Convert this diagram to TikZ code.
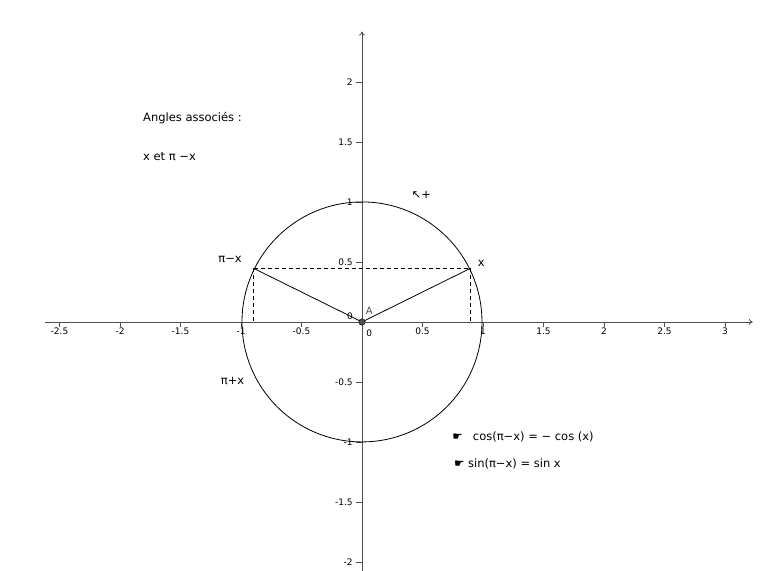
\documentclass[tikz,border=0pt]{standalone}
\usepackage{fontspec}
\setmainfont{DejaVu Sans}
\usetikzlibrary{arrows.meta}
\definecolor{axisgray}{HTML}{505050}
\tikzset{
  axis/.style={draw=axisgray, line width=0.8pt, -{To[length=4pt,width=6pt]}},
  curve/.style={draw=black, line width=0.8pt},
  guide/.style={draw=black, line width=0.7pt, dash pattern=on 4pt off 3pt},
  ticklab/.style={font=\fontsize{9}{10}\selectfont, text=black, inner sep=0pt},
  lab/.style={font=\fontsize{11.5}{13}\selectfont, text=black, inner sep=0pt},
  pointdot/.style={circle, fill=axisgray, draw=black, line width=0.4pt, inner sep=0pt, minimum size=6.5pt}
}
\begin{document}
\begin{tikzpicture}[x=121pt,y=120pt]
\useasboundingbox (-2.992,-2.075) rectangle (3.488,2.683);
% axes
\coordinate (xs) at (-2.62,0);
\coordinate (xe) at (3.23,0);
\coordinate (ys) at (0,-2.075);
\coordinate (ye) at (0,2.42);
\draw[axis] (xs) -- (xe);
\draw[axis] (ys) -- (ye);
% x ticks
\foreach \v/\t in {-2.5/-2.5,-2/-2,-1.5/-1.5,-1/-1,-0.5/-0.5,0.5/0.5,1/1,1.5/1.5,2/2,2.5/2.5,3/3}{
  \draw[axisgray, line width=0.8pt] (\v,0) -- (\v,-0.04);
  \node[ticklab, anchor=north] at (\v,-0.05) {\t};
}
% y ticks
\foreach \v/\t in {-2/-2,-1.5/-1.5,-1/-1,-0.5/-0.5,0.5/0.5,1/1,1.5/1.5,2/2}{
  \draw[axisgray, line width=0.8pt] (0,\v) -- (-0.05,\v);
  \node[ticklab, anchor=east] at (-0.075,\v) {\t};
}
\node[ticklab] (zy) at (-0.1,0.05) {0};
\node[ticklab] (zx) at (0.06,-0.09) {0};
% circle
\node[draw=black, line width=0.8pt, circle, minimum size=240pt, inner sep=0pt] (C) at (0,0) {};
% points
\coordinate (O) at (0,0);
\coordinate (P) at (26.5:1);
\coordinate (Q) at (153.5:1);
\coordinate (Pf) at (P |- O);
\coordinate (Qf) at (Q |- O);
\draw[guide] (Q) -- (P);
\draw[guide] (P) -- (Pf);
\draw[guide] (Q) -- (Qf);
\draw[curve] (O) -- (P);
\draw[curve] (O) -- (Q);
\node[pointdot] (A) at (O) {};
\node[text=axisgray, font=\fontsize{10}{11}\selectfont, inner sep=0pt] (Alab) at (0.06,0.095) {A};
% labels
\node[lab, anchor=west] (t1) at (-1.81,1.70) {Angles associés :};
\node[lab, anchor=west] (t2) at (-1.81,1.375) {x et π −x};
\node[lab] (rot) at (0.49,1.06) {↖+};
\node[lab] (lq) at (-1.09,0.52) {π−x};
\node[lab] (lp) at (0.985,0.485) {x};
\node[lab] (lr) at (-1.07,-0.49) {π+x};
\node[lab, anchor=west] (f1) at (0.745,-0.96) {☛\hspace{0.9em}cos(π−x) = − cos (x)};
\node[lab, anchor=west] (f2) at (0.76,-1.185) {☛ sin(π−x) = sin x};
\end{tikzpicture}
\end{document}
